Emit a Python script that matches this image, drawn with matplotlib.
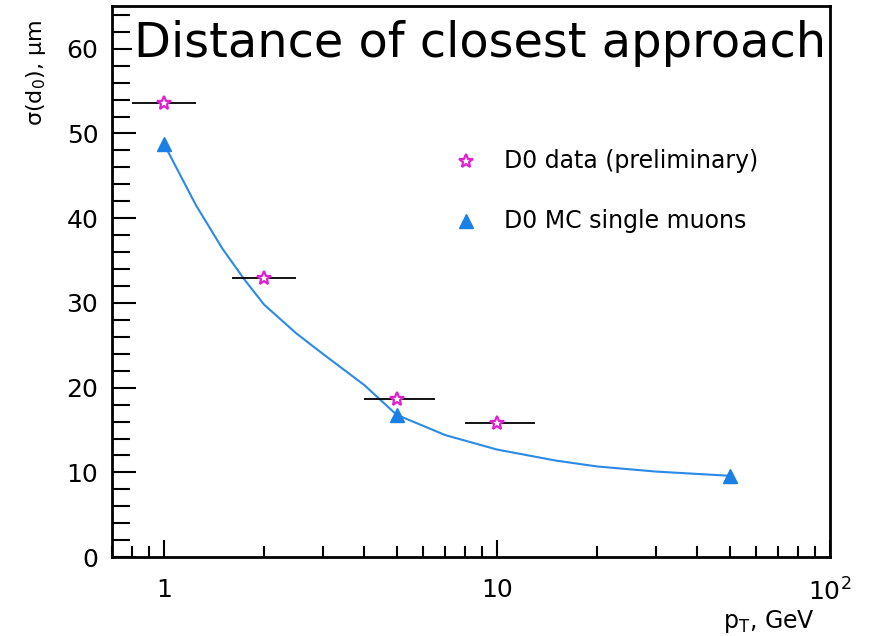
import matplotlib.pyplot as plt
from matplotlib.ticker import FixedLocator, FixedFormatter, MultipleLocator, LogLocator, NullFormatter

plt.rcParams['font.family'] = ['DejaVu Sans']
plt.rcParams['mathtext.default'] = 'regular'

# D0 data points with horizontal bin widths
data_pt = [1, 2, 5, 10]
data_sigma = [53.6, 32.9, 18.7, 15.8]
data_pt_lo = [0.8, 1.6, 4.0, 8.0]
data_pt_hi = [1.25, 2.5, 6.5, 13.0]

# MC single muons
mc_pt = [1, 5, 50]
mc_sigma = [48.8, 16.8, 9.6]

# smooth curve through the MC points
curve_pt = [1, 1.25, 1.5, 1.75, 2, 2.5, 3, 4, 5, 7, 10, 15, 20, 30, 50]
curve_sigma = [48.8, 41.5, 36.4, 32.7, 29.8, 26.4, 24.0, 20.3, 16.8, 14.4, 12.7, 11.4, 10.7, 10.1, 9.6]

labels = ['D0 data (preliminary)', 'D0 MC single muons']

fig = plt.figure(figsize=(8.7, 6.36), dpi=100)
ax = fig.add_axes([0.129, 0.124, 0.825, 0.866])

ax.set_xscale('log')
ax.set_xlim(0.7, 100)
ax.set_ylim(0, 65)

ax.plot(curve_pt, curve_sigma, color='#2a8ae6', lw=1.5, zorder=2)

xerr = [[p - lo for p, lo in zip(data_pt, data_pt_lo)],
        [hi - p for p, hi in zip(data_pt, data_pt_hi)]]
ax.errorbar(data_pt, data_sigma, xerr=xerr, fmt='none', ecolor='black',
            elinewidth=1.3, capsize=0, zorder=3)
ax.plot(data_pt, data_sigma, ls='none', marker='*', ms=10, mfc='white',
        mec='#e020d0', mew=1.6, zorder=4)
ax.plot(mc_pt, mc_sigma, ls='none', marker='^', ms=10, color='#1a80e6',
        zorder=4)

# legend entries placed by hand
ax.plot([0.493], [0.72], transform=ax.transAxes, marker='*', ms=10, mfc='white',
        mec='#e020d0', mew=1.6, clip_on=False)
ax.plot([0.493], [0.611], transform=ax.transAxes, marker='^', ms=10,
        color='#1a80e6', clip_on=False)
ax.text(0.546, 0.72, labels[0], transform=ax.transAxes, fontsize=17,
        va='center', ha='left')
ax.text(0.546, 0.611, labels[1], transform=ax.transAxes, fontsize=17,
        va='center', ha='left')

# axis ticks
ax.xaxis.set_major_locator(FixedLocator([1, 10, 100]))
ax.xaxis.set_major_formatter(FixedFormatter(['1', '10', '$10^2$']))
ax.xaxis.set_minor_locator(LogLocator(base=10, subs=range(2, 10)))
ax.xaxis.set_minor_formatter(NullFormatter())
ax.yaxis.set_major_locator(MultipleLocator(10))
ax.yaxis.set_minor_locator(MultipleLocator(2))

ax.tick_params(which='both', direction='in', top=False, right=False,
               labelsize=18, width=1.5, color='black')
ax.tick_params(axis='y', which='major', length=17, pad=10)
ax.tick_params(axis='y', which='minor', length=13)
ax.tick_params(axis='x', which='major', length=12, pad=15)
ax.tick_params(axis='x', which='minor', length=8)
for s in ax.spines.values():
    s.set_linewidth(2)

ax.set_xlabel('$p_T$, GeV', fontsize=17)
ax.xaxis.set_label_coords(0.915, -0.093)
ax.set_ylabel('σ(d$_0$), μm', fontsize=16)
ax.yaxis.set_label_coords(-0.09, 0.88)

ax.text(0.03, 0.975, 'Distance of closest approach', transform=ax.transAxes,
        fontsize=34.5, va='top', ha='left',
        bbox=dict(facecolor='white', edgecolor='none', pad=1), zorder=6)

fig.savefig('out.png', dpi=100)
